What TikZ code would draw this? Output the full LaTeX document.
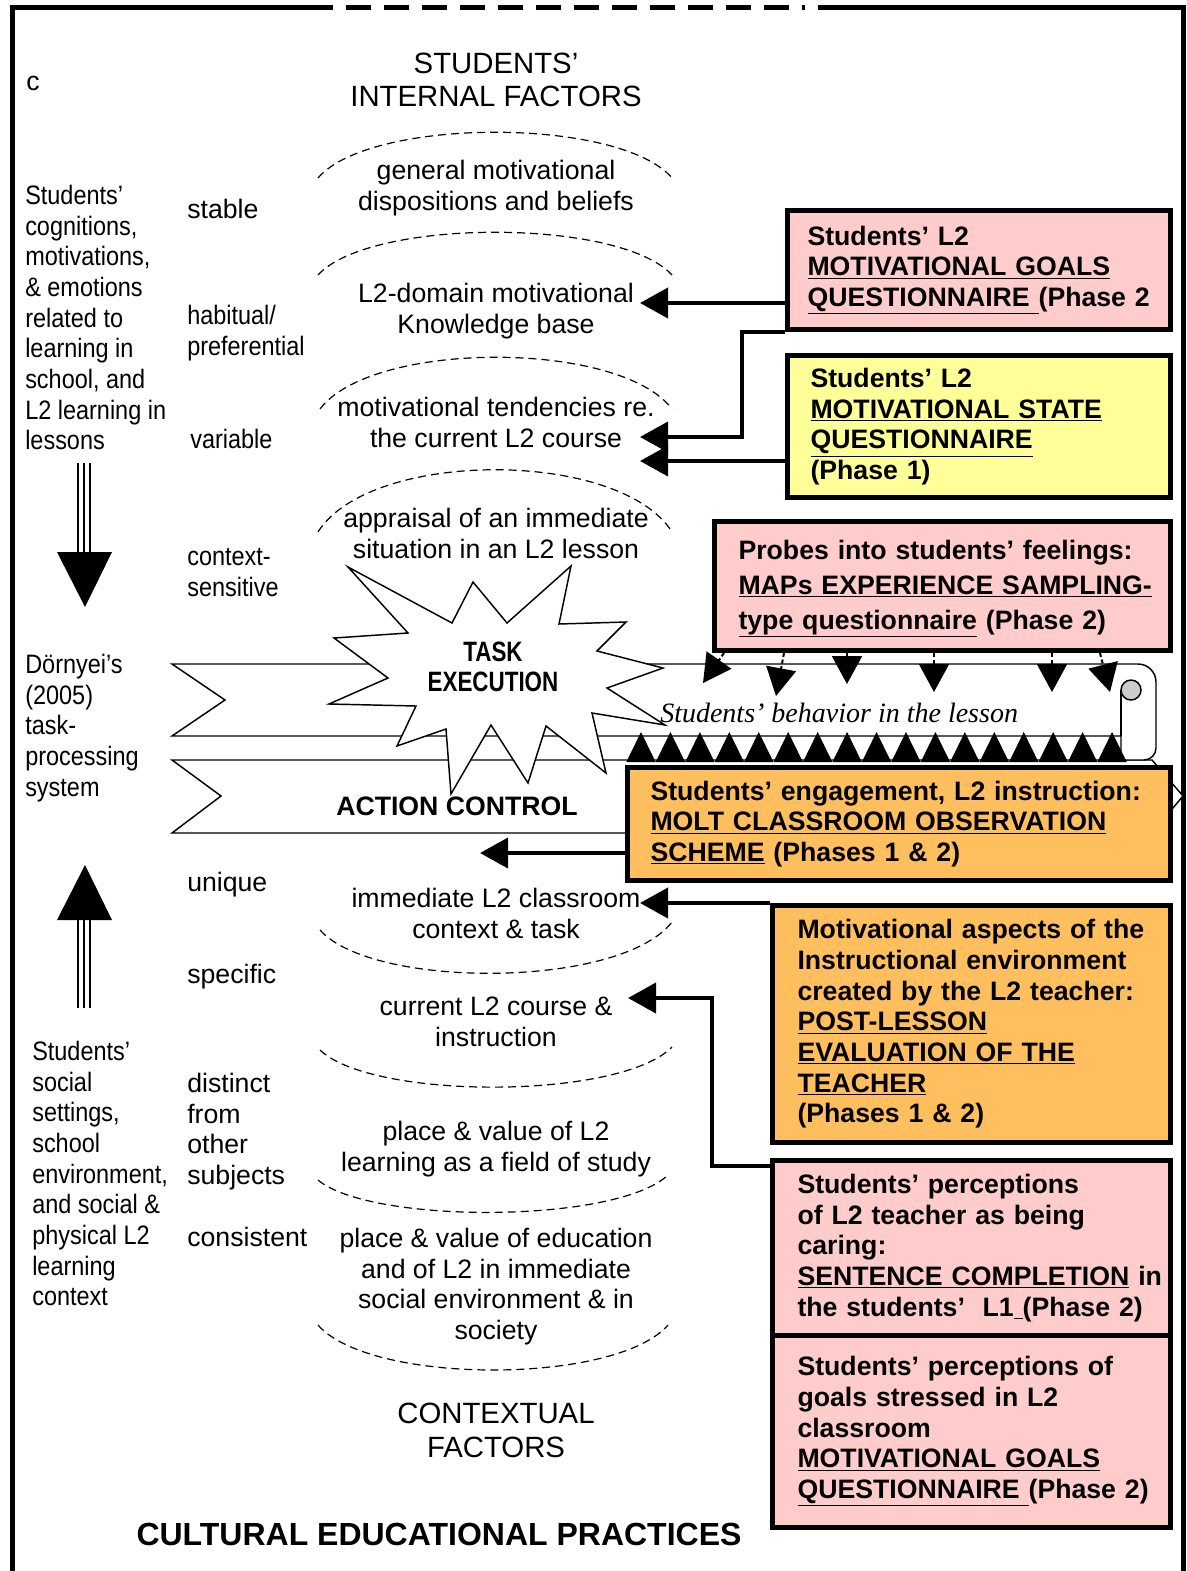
\documentclass[tikz,border=0pt]{standalone}
\usepackage{fontspec}
\setmainfont{Liberation Sans}
\newfontfamily\narrowsf[FakeStretch=0.88]{Liberation Sans}
\newfontfamily\squeezesf[FakeStretch=0.8]{Liberation Sans}
\newfontfamily\lessonrm{Liberation Serif}
\usepackage{xcolor}
\usepackage{tikz}
\usetikzlibrary{arrows.meta,calc}
\definecolor{qpink}{RGB}{255,204,204}
\definecolor{qyellow}{RGB}{255,255,153}
\definecolor{qorange}{RGB}{255,191,95}
\tikzset{
	lbl/.style={inner sep=0pt,font=\fontsize{20}{23}\selectfont},
	narrow/.style={inner sep=0pt,align=left,anchor=north west,font=\narrowsf\fontsize{20}{23}\selectfont},
	arctext/.style={lbl,align=center,anchor=north},
	arcline/.style={line width=0.9pt,dash pattern=on 6pt off 3.75pt},
	measure/.style={draw,line width=3.75pt,anchor=north west,align=left,inner ysep=0pt,font=\bfseries\fontsize{20}{23}\selectfont},
	conn/.style={line width=3pt,-{Triangle[length=21pt,width=22.5pt]}},
	probe/.style={line width=1.5pt,dash pattern=on 3pt off 2pt,-{Triangle[length=21pt,width=22.5pt]}},
	band/.style={line width=1.1pt,fill=white},
}

\begin{document}
\begin{tikzpicture}[x=0.75pt,y=-0.75pt]
	\useasboundingbox (0,0) rectangle (1186,1571);
	\draw[line width=3.75pt] (333,7) -- (12,7) -- (12,1571);
	\draw[line width=3.75pt,dash pattern=on 18.75pt off 9.75pt] (346,7) -- (805,7);
	\draw[line width=3.75pt] (818,7) -- (1183,7) -- (1183,1571);

	\node[lbl,anchor=base west] (corner) at (26,90) {c};
	\node[arctext,font=\fontsize{22}{24.75}\selectfont] (intfac) at (496,53) {STUDENTS’\\INTERNAL FACTORS};
	\node[arctext,font=\fontsize{22}{25.5}\selectfont] (ctxfac) at (496,1403) {CONTEXTUAL\\FACTORS};

	\draw[arcline] (318,178) .. controls (370,117) and (620,117) .. (672,178);
	\draw[arcline] (318,275) .. controls (370,218) and (620,218) .. (672,275);
	\draw[arcline] (320,409) .. controls (372,340) and (620,340) .. (672,409);
	\draw[arcline] (318,532) .. controls (370,449) and (620,449) .. (672,532);
	\draw[arcline] (320,930) .. controls (372,989) and (620,989) .. (672,922);
	\draw[arcline] (320,1050) .. controls (372,1100) and (620,1100) .. (672,1047);
	\draw[arcline] (318,1180) .. controls (370,1224) and (616,1224) .. (668,1175);
	\draw[arcline] (318,1325) .. controls (370,1385) and (616,1385) .. (668,1325);

	\node[arctext] (gen) at (496,160) {general motivational\\dispositions and beliefs};
	\node[arctext] (kb) at (496,283) {L2-domain motivational\\Knowledge base};
	\node[arctext] (tend) at (496,397) {motivational tendencies re.\\the current L2 course};
	\node[arctext] (appr) at (496,508) {appraisal of an immediate\\situation in an L2 lesson};
	\node[arctext] (imm) at (496,888) {immediate L2 classroom\\context \& task};
	\node[arctext] (cur) at (496,997) {current L2 course \&\\instruction};
	\node[arctext] (place) at (496,1121) {place \& value of L2\\learning as a field of study};
	\node[arctext] (edu) at (496,1228) {place \& value of education\\and of L2 in immediate\\social environment \& in\\society};

	\node[narrow] (cog) at (25,185) {Students’\\cognitions,\\motivations,\\\& emotions\\related to\\learning in\\school, and\\L2 learning in\\lessons};
	\node[lbl,anchor=north west] (stable) at (187,199) {stable};
	\node[narrow] (habit) at (187,305) {habitual/\\preferential};
	\node[narrow] (variable) at (190,429) {variable};
	\node[narrow] (ctxsens) at (187,548) {context-\\sensitive};
	\node[narrow] (dornyei) at (25,654) {Dörnyei’s\\(2005)\\task-\\processing\\system};
	\node[lbl,anchor=north west] (unique) at (187,872) {unique};
	\node[lbl,anchor=north west] (specific) at (187,964) {specific};
	\node[lbl,anchor=north west,align=left] (distinct) at (187,1073) {distinct\\from\\other\\subjects};
	\node[lbl,anchor=north west] (consistent) at (187,1227) {consistent};
	\node[narrow] (social) at (32,1041) {Students’\\social\\settings,\\school\\environment,\\and social \&\\physical L2\\learning\\context};

	\foreach \dx in {-6,0,6}
		\draw[line width=1.5pt] (84+\dx,463) -- (84+\dx,552);
	\fill (57,552) -- (112,552) -- (85,607) -- cycle;
	\foreach \dx in {-6,0,6}
		\draw[line width=1.5pt] (84+\dx,920) -- (84+\dx,1008);
	\fill (57,920) -- (112,920) -- (85,865) -- cycle;

	\draw[band] (172,760) -- (1152,760) -- (1183,796) -- (1152,833) -- (172,833) -- (221,796) -- cycle;
	\draw[band] (172,664) -- (1138,664) arc[start angle=-90,end angle=0,radius=18] -- (1156,748)
		arc[start angle=0,end angle=90,radius=12] -- (1121,760) -- (1121,736) -- (172,736) -- (225,700) -- cycle;
	\draw[line width=1.1pt] (1121,736) -- (1121,690);
	\draw[line width=1.1pt,fill=black!20] (1131,690) circle[radius=10];

	\draw[band] (348,567) -- (452,623) -- (473,582) -- (507,623) -- (571,566) -- (559,624) -- (626,622)
		-- (597,651) -- (663,668) -- (607,688) -- (665,725) -- (592,713) -- (606,773) -- (546,726)
		-- (528,783) -- (491,725) -- (451,794) -- (446,729) -- (397,746) -- (416,706) -- (329,704)
		-- (388,678) -- (334,638) -- (408,633) -- cycle;
	\node[lbl,align=center,font=\squeezesf\bfseries\fontsize{21}{22.5}\selectfont] (task) at (493,667) {TASK\\EXECUTION};
	\node[lbl,font=\bfseries\fontsize{20}{23}\selectfont] (action) at (457,806) {ACTION CONTROL};
	\node[lbl,anchor=west,font=\lessonrm\itshape\fontsize{21}{24}\selectfont] (behave) at (660,713) {Students’ behavior in the lesson};
	\node[lbl,font=\bfseries\fontsize{24}{28}\selectfont] (culture) at (439,1534) {CULTURAL EDUCATIONAL PRACTICES};

	\node[measure,fill=qpink,minimum width=287.25pt,minimum height=89.25pt,inner xsep=15pt,text width=257.25pt] (goalsA) at (785,208)
		{Students’ L2\\\underline{MOTIVATIONAL GOALS}\\\underline{QUESTIONNAIRE }(Phase~2};
	\node[measure,fill=qyellow,minimum width=287.25pt,minimum height=106.5pt,inner xsep=17.25pt,text width=252.75pt] (state) at (785,353)
		{Students’ L2\\\underline{MOTIVATIONAL STATE}\\\underline{QUESTIONNAIRE}\\(Phase 1)};
	\node[measure,fill=qpink,minimum width=342pt,minimum height=96.75pt,inner xsep=18pt,text width=306pt,font=\bfseries\fontsize{20}{26}\selectfont] (probes) at (712,519)
		{\rule{0pt}{19pt}Probes into students’ feelings:\\\underline{MAPs EXPERIENCE SAMPLING-}\\\underline{type questionnaire} (Phase~2)};

	\coordinate (kbtip) at (640,303);
	\coordinate (tendtip) at (640,437);
	\coordinate (statetip) at (640,461);
	\coordinate (moltip) at (480,853);
	\coordinate (immtip) at (640,903);
	\coordinate (curtip) at (628,998);

	\draw[conn] (goalsA.west |- kbtip) -- (kbtip);
	\draw[conn] (goalsA.south west) -- ++(-43,0) |- (tendtip);
	\draw[conn] (state.west |- statetip) -- (statetip);

	\foreach \sx/\tx/\ty in {724/703/683,784/776/696,847/847/684,934/934/692,1052/1052/692,1100/1110/692}
		\draw[probe] (probes.south -| \sx,0) -- (\tx,\ty);

	\foreach \i in {0,...,16}
		\fill (641+29.44*\i-14.7,762) -- (641+29.44*\i,732) -- (641+29.44*\i+14.7,762) -- cycle;

	\node[measure,fill=qorange,minimum width=407.25pt,minimum height=84.75pt,inner xsep=17.25pt,text width=372.75pt] (molt) at (625,765)
		{Students’ engagement, L2 instruction:\\\underline{MOLT CLASSROOM OBSERVATION}\\\underline{SCHEME} (Phases 1 \& 2)};
	\draw[conn] (molt.west |- moltip) -- (moltip);

	\node[measure,fill=qorange,minimum width=298.5pt,minimum height=177.75pt,inner xsep=18.75pt,text width=261pt] (teacher) at (770,903)
		{Motivational aspects of the\\Instructional environment\\created by the L2 teacher:\\\underline{POST-LESSON}\\\underline{EVALUATION OF THE}\\\underline{TEACHER}\\(Phases 1 \& 2)};
	\node[measure,fill=qpink,minimum width=298.5pt,minimum height=131.25pt,inner xsep=18.75pt,text width=261pt] (caring) at (770,1158)
		{Students’ perceptions\\of L2 teacher as being\\caring:\\\underline{SENTENCE COMPLETION}~in\\the students’~~L1\underline{\ }(Phase~2)};
	\node[measure,fill=qpink,minimum width=298.5pt,minimum height=144pt,inner xsep=18.75pt,text width=261pt] (goalsG) at (770,1333)
		{Students’ perceptions of\\goals stressed in L2\\classroom\\\underline{MOTIVATIONAL GOALS}\\\underline{QUESTIONNAIRE }(Phase~2)};

	\draw[conn] (teacher.north west) -- (immtip);
	\draw[conn] ($(caring.north west)+(0,8)$) -- ++(-58,0) |- (curtip);
\end{tikzpicture}
\end{document}
